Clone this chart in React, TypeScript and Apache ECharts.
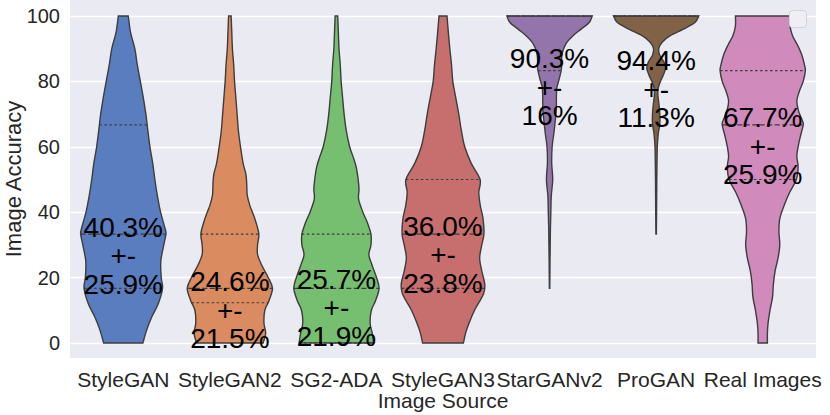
import React, { useEffect, useRef } from "react";
import * as echarts from "echarts";

const categories = ["StyleGAN", "StyleGAN2", "SG2-ADA", "StyleGAN3", "StarGANv2", "ProGAN", "Real Images"];
const means = [40.3, 24.6, 25.7, 36.0, 90.3, 94.4, 67.7];
const stds = [25.9, 21.5, 21.9, 23.8, 16, 11.3, 25.9];
const q1 = [16.7, 12.3, 0, 16.7, 83.3, 100, 50];
const medians = [33.3, 16.7, 16.7, 33.3, 100, 100, 66.7];
const q3 = [66.7, 33.3, 33.3, 50, 100, 100, 83.3];
// value (accuracy) at which the middle line of each annotation sits
const labelCenters = [26.7, 10.0, 10.7, 27.0, 78.2, 77.6, 60.2];

// kernel density profiles: [accuracy, relative density]
const densityStyleGAN = [
  [0, 0.46], [4, 0.55], [8, 0.67], [12, 0.82], [16.7, 0.92], [20, 0.89], [25, 0.88], [30, 0.95],
  [33.3, 1.0], [35, 0.98], [40, 0.875], [45, 0.8], [50, 0.74], [55, 0.69], [60, 0.625], [66.7, 0.56],
  [70, 0.53], [75, 0.47], [80, 0.4], [85, 0.33], [90, 0.27], [95, 0.17], [100, 0.117],
];
const densityStyleGAN2 = [
  [0, 0.78], [3, 0.84], [6, 0.8], [10, 0.82], [13, 0.92], [16.7, 1.0], [20, 0.9], [24, 0.74],
  [27, 0.65], [30, 0.65], [33.3, 0.68], [37, 0.61], [40, 0.53], [42, 0.47], [45, 0.41], [47, 0.4],
  [50, 0.39], [52, 0.37], [55, 0.31], [60, 0.25], [65, 0.2], [70, 0.17], [75, 0.14], [80, 0.11],
  [85, 0.09], [90, 0.06], [95, 0.045], [100, 0.03],
];
const densitySG2ADA = [
  [0, 0.875], [3, 0.84], [6, 0.79], [10, 0.82], [13, 0.92], [16.7, 1.0], [20, 0.94], [24, 0.83],
  [27, 0.76], [30, 0.81], [33.3, 0.81], [37, 0.72], [40, 0.62], [44, 0.52], [47, 0.53], [50, 0.51],
  [54, 0.46], [57, 0.39], [60, 0.31], [65, 0.23], [70, 0.18], [75, 0.145], [80, 0.11], [85, 0.09],
  [90, 0.06], [95, 0.045], [100, 0.03],
];
const densityStyleGAN3 = [
  [0, 0.48], [3, 0.53], [6, 0.61], [10, 0.74], [15, 0.95], [18, 0.98], [22, 0.91], [26, 0.86],
  [30, 0.91], [33.3, 0.96], [38, 0.94], [42, 0.875], [46, 0.84], [50, 0.87], [55, 0.66], [60, 0.51],
  [65, 0.43], [70, 0.37], [75, 0.3], [80, 0.23], [85, 0.2], [90, 0.16], [95, 0.125], [100, 0.094],
];
const densityStarGANv2 = [
  [16.7, 0.005], [25, 0.01], [30, 0.015], [35, 0.02], [40, 0.03], [45, 0.04], [50, 0.074], [55, 0.05],
  [60, 0.06], [64, 0.1], [67, 0.125], [70, 0.15], [72, 0.16], [75, 0.16], [78, 0.17], [80, 0.21],
  [82, 0.25], [84, 0.28], [86, 0.28], [88, 0.29], [90, 0.33], [92, 0.41], [94, 0.55], [96, 0.74],
  [98, 0.93], [100, 1.0],
];
const densityProGAN = [
  [33.3, 0.005], [40, 0.01], [50, 0.015], [55, 0.02], [60, 0.027], [64, 0.05], [67, 0.086], [70, 0.086],
  [73, 0.066], [76, 0.04], [78, 0.05], [80, 0.1], [82, 0.17], [84, 0.22], [86, 0.18], [88, 0.085],
  [90, 0.06], [92, 0.14], [94, 0.33], [96, 0.64], [98, 0.91], [100, 1.0],
];
const densityReal = [
  [0, 0.11], [3, 0.11], [6, 0.125], [10, 0.17], [14, 0.23], [18, 0.25], [22, 0.29], [26, 0.36],
  [30, 0.4], [34, 0.38], [38, 0.4], [42, 0.5], [46, 0.63], [50, 0.79], [54, 0.83], [57, 0.8],
  [60, 0.83], [63, 0.88], [66.7, 0.95], [68, 0.93], [71, 0.84], [74, 0.8], [77, 0.86], [80, 0.95],
  [83.3, 1.0], [85, 0.98], [88, 0.92], [91, 0.82], [94, 0.7], [97, 0.64], [100, 0.64],
];
const densities = [
  densityStyleGAN, densityStyleGAN2, densitySG2ADA, densityStyleGAN3,
  densityStarGANv2, densityProGAN, densityReal,
];

const colors = ["#597dbf", "#da8b5f", "#76bf71", "#c76e6e", "#9475ab", "#826246", "#d08abb"];
const EDGE = "#3d3d3d";
const FONT = "'Liberation Sans', Arial, Helvetica, sans-serif";

function crPath(p: number[][]): string {
  let s = "";
  for (let k = 0; k < p.length - 1; k++) {
    const p0 = p[k - 1] || p[k];
    const p1 = p[k];
    const p2 = p[k + 1];
    const p3 = p[k + 2] || p2;
    const c1x = p1[0] + (p2[0] - p0[0]) / 6;
    const c1y = p1[1] + (p2[1] - p0[1]) / 6;
    const c2x = p2[0] - (p3[0] - p1[0]) / 6;
    const c2y = p2[1] - (p3[1] - p1[1]) / 6;
    s += `C${c1x.toFixed(2)},${c1y.toFixed(2)} ${c2x.toFixed(2)},${c2y.toFixed(2)} ${p2[0].toFixed(2)},${p2[1].toFixed(2)}`;
  }
  return s;
}

function densityAt(prof: number[][], v: number): number {
  if (v <= prof[0][0]) return prof[0][1];
  for (let k = 0; k < prof.length - 1; k++) {
    const a = prof[k];
    const b = prof[k + 1];
    if (v >= a[0] && v <= b[0]) {
      const t = (v - a[0]) / (b[0] - a[0] || 1);
      return a[1] + t * (b[1] - a[1]);
    }
  }
  return prof[prof.length - 1][1];
}

export default function App() {
  const ref = useRef<HTMLDivElement>(null);

  useEffect(() => {
    document.body.style.margin = "0";
    const chart = echarts.init(ref.current as HTMLDivElement, null, { renderer: "svg" });

    const violinItem = (params: any, api: any) => {
      const i = params.dataIndex;
      const prof = densities[i];
      const band = api.size([1, 0])[0];
      const maxHalf = band * 0.4;
      const cx = api.coord([i, 0])[0];
      const pts = prof.map(([v, d]) => [d * maxHalf, api.coord([i, v])[1]]);
      const topDown = pts.slice().reverse();
      const left = topDown.map(([w, y]) => [cx - w, y]);
      const right = pts.map(([w, y]) => [cx + w, y]);
      const d =
        `M${left[0][0].toFixed(2)},${left[0][1].toFixed(2)}` +
        crPath(left) +
        `L${right[0][0].toFixed(2)},${right[0][1].toFixed(2)}` +
        crPath(right) +
        "Z";
      const qLine = (v: number, dash: number[]) => {
        const w = densityAt(prof, v) * maxHalf;
        const y = api.coord([i, v])[1];
        return {
          type: "line",
          shape: { x1: cx - w, y1: y, x2: cx + w, y2: y },
          style: { stroke: EDGE, lineWidth: 1.2, lineDash: dash },
        };
      };
      return {
        type: "group",
        children: [
          {
            type: "path",
            shape: { pathData: d },
            style: { fill: colors[i], stroke: EDGE, lineWidth: 1.4 },
          },
          qLine(q1[i], [2.5, 2.5]),
          qLine(q3[i], [2.5, 2.5]),
          qLine(medians[i], [5, 2.5]),
        ],
      };
    };

    const labelItem = (params: any, api: any) => {
      const i = params.dataIndex;
      const p = api.coord([i, labelCenters[i]]);
      return {
        type: "text",
        x: p[0],
        y: p[1],
        style: {
          text: `${means[i].toFixed(1)}%\n+-\n${stds[i]}%`,
          fill: "#000000",
          fontSize: 28,
          lineHeight: 28.5,
          fontFamily: FONT,
          align: "center",
          verticalAlign: "middle",
        },
      };
    };

    const seriesData = categories.map((_, i) => [i, means[i]]);

    chart.setOption({
      animation: false,
      backgroundColor: "#ffffff",
      grid: {
        left: 70,
        right: 14,
        top: 0,
        bottom: 57,
        containLabel: false,
        outerBoundsMode: "none",
        show: true,
        backgroundColor: "#eaeaf2",
        borderWidth: 0,
      },
      xAxis: {
        type: "category",
        data: categories,
        boundaryGap: true,
        axisLine: { show: false },
        axisTick: { show: false },
        splitLine: { show: false },
        axisLabel: { interval: 0, margin: 11, fontSize: 21, color: "#262626", fontFamily: FONT },
        name: "Image Source",
        nameLocation: "middle",
        nameGap: 32,
        nameMoveOverlap: false,
        nameTextStyle: { fontSize: 21, color: "#262626", fontFamily: FONT },
      },
      yAxis: {
        type: "value",
        min: -4.6,
        max: 104.9,
        axisLine: { show: false },
        axisTick: { show: false },
        splitLine: {
          show: true,
          showMinLine: false,
          showMaxLine: false,
          lineStyle: { color: "#ffffff", width: 1.3 },
        },
        axisLabel: {
          showMinLabel: false,
          showMaxLabel: false,
          fontSize: 20,
          margin: 10,
          color: "#262626",
          fontFamily: FONT,
        },
        name: "Image Accuracy",
        nameLocation: "middle",
        nameGap: 46,
        nameMoveOverlap: false,
        nameTextStyle: { fontSize: 22, color: "#262626", fontFamily: FONT },
      },
      graphic: [
        {
          type: "rect",
          left: 789,
          top: 10,
          shape: { width: 17, height: 17, r: 3 },
          style: { fill: "#eeeef4", stroke: "#d2d2da", lineWidth: 1 },
          z: 100,
        },
      ],
      series: [
        {
          type: "custom",
          name: "violins",
          renderItem: violinItem,
          data: seriesData,
          silent: true,
          z: 2,
        },
        {
          type: "custom",
          name: "labels",
          renderItem: labelItem,
          data: seriesData,
          silent: true,
          z: 5,
        },
      ],
    });

    return () => {
      chart.dispose();
    };
  }, []);

  return (
    <div
      ref={ref}
      style={{ position: "fixed", left: 0, top: 0, width: 830, height: 415 }}
    />
  );
}
